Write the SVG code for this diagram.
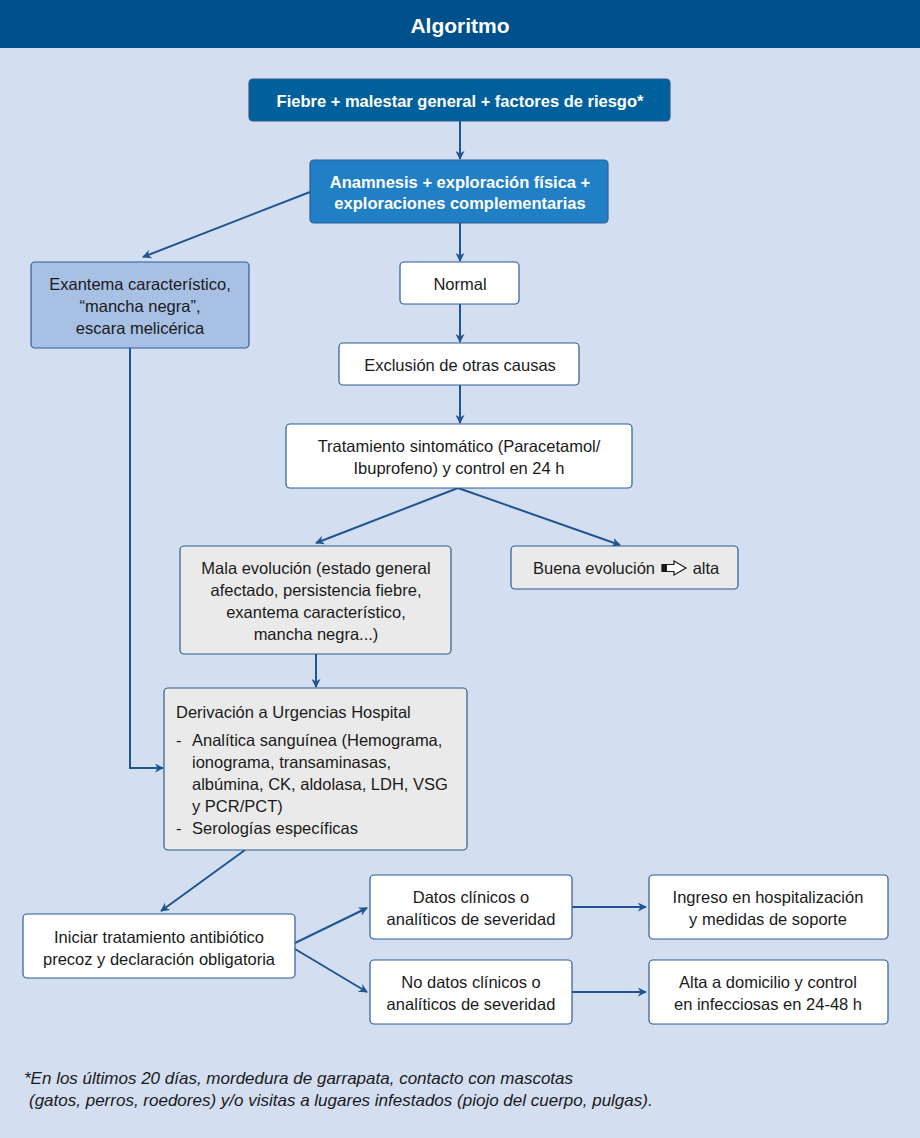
<svg xmlns="http://www.w3.org/2000/svg" width="920" height="1138" viewBox="0 0 920 1138">
<defs>
<marker id="ah" viewBox="0 0 10 10" refX="9" refY="5" markerWidth="9" markerHeight="9" markerUnits="userSpaceOnUse" orient="auto">
<path d="M0,0 L10,5 L0,10 L3,5 Z" fill="#1F5590"/>
</marker>
<style>
text{font-family:"Liberation Sans Narrow","Liberation Sans",Arial,sans-serif;font-size:16.5px;fill:#1a1a1a}
.c{text-anchor:middle}
.w{fill:#ffffff;font-weight:bold}
.box{stroke:#2C5C94;stroke-width:1.2}
.white{fill:#ffffff}
.grey{fill:#EAEAEA}
.conn line,.conn path{stroke:#1F5590;stroke-width:2;fill:none;marker-end:url(#ah)}
.foot{font-style:italic;font-size:17px}
</style>
</defs>
<rect x="0" y="0" width="920" height="1138" fill="#D3DEF1"/>
<rect x="0" y="0" width="920" height="48" fill="#00508C"/>
<text x="460" y="33" class="c w" style="font-size:21px">Algoritmo</text>

<g class="conn">
<line x1="460" y1="121" x2="460" y2="159"/>
<line x1="460" y1="223" x2="460" y2="261"/>
<line x1="310" y1="192" x2="143" y2="257"/>
<line x1="460" y1="304" x2="460" y2="342"/>
<line x1="460" y1="385" x2="460" y2="423"/>
<line x1="458" y1="488" x2="316" y2="543"/>
<line x1="458" y1="488" x2="620" y2="545"/>
<line x1="316" y1="654" x2="316" y2="687"/>
<path d="M130,348 V768 H163"/>
<line x1="245" y1="850" x2="161" y2="911"/>
<line x1="295" y1="943" x2="367" y2="908"/>
<line x1="295" y1="949" x2="367" y2="992"/>
<line x1="572" y1="907" x2="646" y2="907"/>
<line x1="572" y1="992" x2="646" y2="992"/>
</g>

<g id="n1">
<rect x="249" y="79" width="421" height="42" rx="4" fill="#00609C" class="box"/>
<text x="460" y="107" class="c w">Fiebre + malestar general + factores de riesgo*</text>
</g>
<g id="n2">
<rect x="310" y="160" width="298" height="63" rx="4" fill="#2180C5" class="box"/>
<text x="460" y="188" class="c w">Anamnesis + exploración física +</text>
<text x="460" y="209" class="c w">exploraciones complementarias</text>
</g>
<g id="n3">
<rect x="31" y="262" width="218" height="86" rx="4" fill="#A8C0E4" class="box"/>
<text x="140" y="290" class="c">Exantema característico,</text>
<text x="140" y="312" class="c">“mancha negra”,</text>
<text x="140" y="334" class="c">escara melicérica</text>
</g>
<g id="n4">
<rect x="400" y="262" width="119" height="42" rx="4" class="box white"/>
<text x="460" y="290" class="c">Normal</text>
</g>
<g id="n5">
<rect x="339" y="343" width="240" height="42" rx="4" class="box white"/>
<text x="460" y="371" class="c">Exclusión de otras causas</text>
</g>
<g id="n6">
<rect x="286" y="424" width="346" height="64" rx="4" class="box white"/>
<text x="459" y="452" class="c">Tratamiento sintomático (Paracetamol/</text>
<text x="459" y="474" class="c">Ibuprofeno) y control en 24 h</text>
</g>
<g id="n7">
<rect x="180" y="546" width="271" height="108" rx="4" class="box grey"/>
<text x="316" y="574" class="c">Mala evolución (estado general</text>
<text x="316" y="596" class="c">afectado, persistencia fiebre,</text>
<text x="316" y="618" class="c">exantema característico,</text>
<text x="316" y="640" class="c">mancha negra...)</text>
</g>
<g id="n8">
<rect x="511" y="546" width="227" height="43" rx="4" class="box grey"/>
<text x="594" y="574" class="c">Buena evolución</text>
<path d="M662,564.5 H674 V561 L686,568 L674,575 V571.5 H662 Z" fill="#ffffff" stroke="#1a1a1a" stroke-width="1.2"/>
<rect x="662" y="564.5" width="5" height="7" fill="#1a1a1a"/>
<text x="706" y="574" class="c">alta</text>
</g>
<g id="n9">
<rect x="164" y="688" width="303" height="162" rx="4" class="box grey"/>
<text x="176" y="718">Derivación a Urgencias Hospital</text>
<text x="176" y="746">-</text>
<text x="192" y="746">Analítica sanguínea (Hemograma,</text>
<text x="192" y="768">ionograma, transaminasas,</text>
<text x="192" y="790">albúmina, CK, aldolasa, LDH, VSG</text>
<text x="192" y="812">y PCR/PCT)</text>
<text x="176" y="834">-</text>
<text x="192" y="834">Serologías específicas</text>
</g>
<g id="n10">
<rect x="23" y="914" width="272" height="64" rx="4" class="box white"/>
<text x="159" y="943" class="c">Iniciar tratamiento antibiótico</text>
<text x="159" y="965" class="c">precoz y declaración obligatoria</text>
</g>
<g id="n11">
<rect x="370" y="875" width="202" height="64" rx="4" class="box white"/>
<text x="471" y="903" class="c">Datos clínicos o</text>
<text x="471" y="925" class="c">analíticos de severidad</text>
</g>
<g id="n12">
<rect x="370" y="960" width="202" height="64" rx="4" class="box white"/>
<text x="471" y="988" class="c">No datos clínicos o</text>
<text x="471" y="1010" class="c">analíticos de severidad</text>
</g>
<g id="n13">
<rect x="649" y="875" width="239" height="64" rx="4" class="box white"/>
<text x="768" y="903" class="c">Ingreso en hospitalización</text>
<text x="768" y="925" class="c">y medidas de soporte</text>
</g>
<g id="n14">
<rect x="649" y="960" width="239" height="64" rx="4" class="box white"/>
<text x="768" y="988" class="c">Alta a domicilio y control</text>
<text x="768" y="1010" class="c">en infecciosas en 24-48 h</text>
</g>
<text x="24" y="1084" class="foot">*En los últimos 20 días, mordedura de garrapata, contacto con mascotas</text>
<text x="29" y="1106" class="foot">(gatos, perros, roedores) y/o visitas a lugares infestados (piojo del cuerpo, pulgas).</text>
</svg>
